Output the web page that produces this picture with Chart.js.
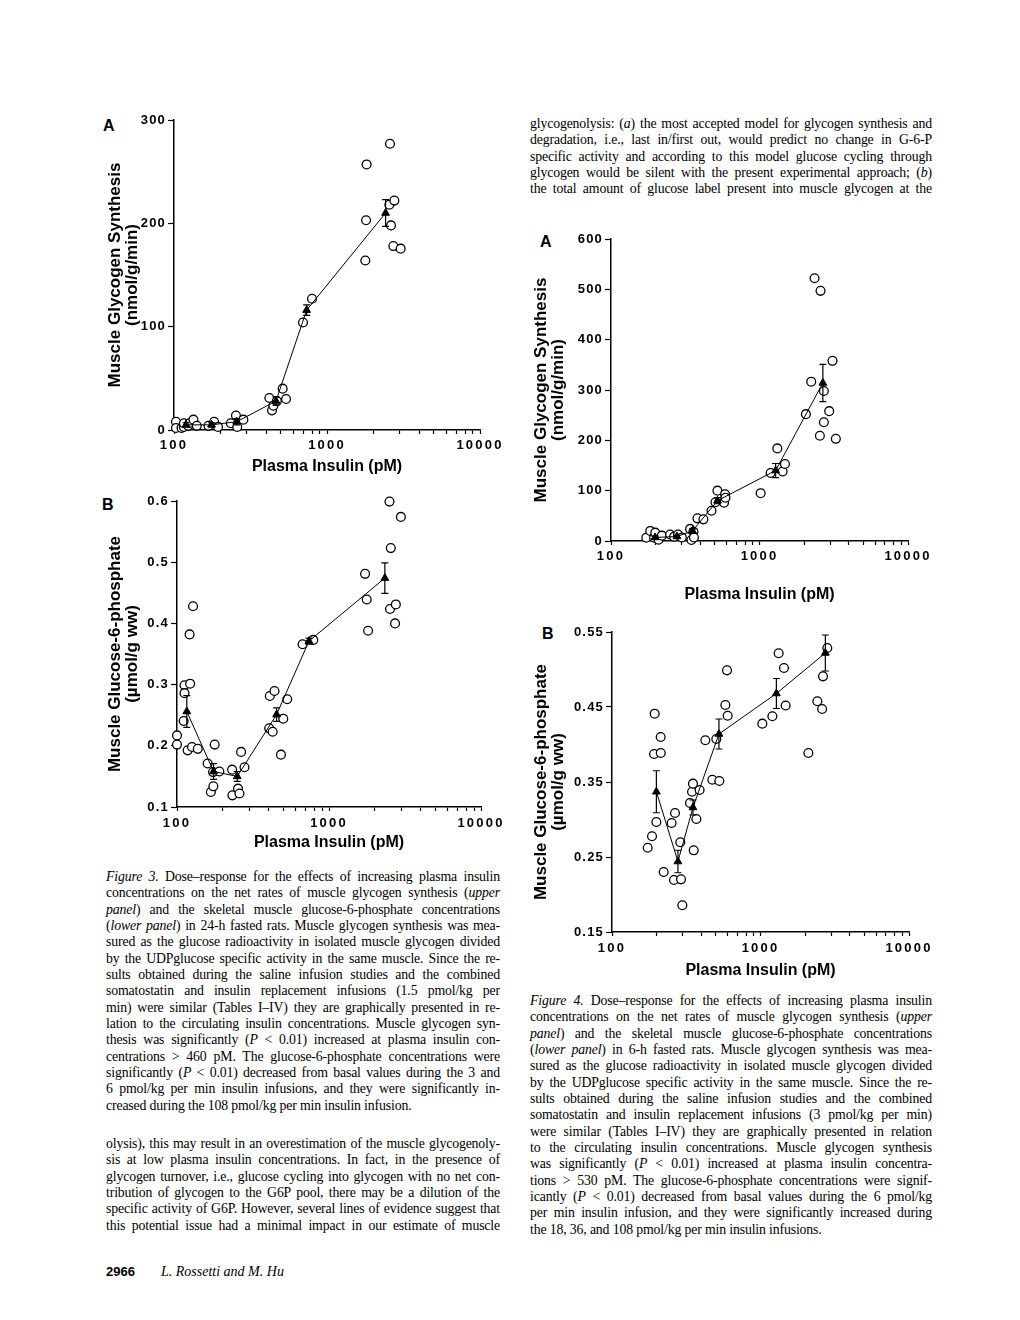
<!DOCTYPE html>
<html>
<head>
<meta charset="utf-8">
<script src="https://cdn.jsdelivr.net/npm/chart.js@4.4.1/dist/chart.umd.min.js"></script>
<style>
html,body{margin:0;padding:0;background:#fff;}
body{width:1020px;height:1320px;position:relative;overflow:hidden;color:#000;}
.blk{position:absolute;font-family:'Liberation Serif','Times New Roman',serif;font-size:13.8px;letter-spacing:-0.15px;line-height:16.35px;}
.blk div{text-align:justify;text-align-last:justify;white-space:nowrap;}
.blk div.last{text-align-last:left;}
.lab{position:absolute;font-family:'Liberation Sans',Arial,sans-serif;font-weight:bold;font-size:16px;line-height:16px;}
.foot{position:absolute;top:1264px;line-height:16px;}
canvas{position:absolute;}
</style>
</head>
<body>

<div class="blk" style="left:530px;top:116px;width:402px;">
<div>glycogenolysis: (<i>a</i>) the most accepted model for glycogen synthesis and</div>
<div>degradation, i.e., last in/first out, would predict no change in G-6-P</div>
<div>specific activity and according to this model glucose cycling through</div>
<div>glycogen would be silent with the present experimental approach; (<i>b</i>)</div>
<div>the total amount of glucose label present into muscle glycogen at the</div>
</div>

<div class="blk" style="left:106px;top:869px;width:394px;">
<div><i>Figure 3.</i> Dose–response for the effects of increasing plasma insulin</div>
<div>concentrations on the net rates of muscle glycogen synthesis (<i>upper</i></div>
<div><i>panel</i>) and the skeletal muscle glucose-6-phosphate concentrations</div>
<div>(<i>lower panel</i>) in 24-h fasted rats. Muscle glycogen synthesis was mea-</div>
<div>sured as the glucose radioactivity in isolated muscle glycogen divided</div>
<div>by the UDPglucose specific activity in the same muscle. Since the re-</div>
<div>sults obtained during the saline infusion studies and the combined</div>
<div>somatostatin and insulin replacement infusions (1.5 pmol/kg per</div>
<div>min) were similar (Tables I–IV) they are graphically presented in re-</div>
<div>lation to the circulating insulin concentrations. Muscle glycogen syn-</div>
<div>thesis was significantly (<i>P</i> &lt; 0.01) increased at plasma insulin con-</div>
<div>centrations &gt; 460 pM. The glucose-6-phosphate concentrations were</div>
<div>significantly (<i>P</i> &lt; 0.01) decreased from basal values during the 3 and</div>
<div>6 pmol/kg per min insulin infusions, and they were significantly in-</div>
<div class="last">creased during the 108 pmol/kg per min insulin infusion.</div>
</div>

<div class="blk" style="left:106px;top:1136px;width:394px;">
<div>olysis), this may result in an overestimation of the muscle glycogenoly-</div>
<div>sis at low plasma insulin concentrations. In fact, in the presence of</div>
<div>glycogen turnover, i.e., glucose cycling into glycogen with no net con-</div>
<div>tribution of glycogen to the G6P pool, there may be a dilution of the</div>
<div>specific activity of G6P. However, several lines of evidence suggest that</div>
<div>this potential issue had a minimal impact in our estimate of muscle</div>
</div>

<div class="blk" style="left:530px;top:993px;width:402px;">
<div><i>Figure 4.</i> Dose–response for the effects of increasing plasma insulin</div>
<div>concentrations on the net rates of muscle glycogen synthesis (<i>upper</i></div>
<div><i>panel</i>) and the skeletal muscle glucose-6-phosphate concentrations</div>
<div>(<i>lower panel</i>) in 6-h fasted rats. Muscle glycogen synthesis was mea-</div>
<div>sured as the glucose radioactivity in isolated muscle glycogen divided</div>
<div>by the UDPglucose specific activity in the same muscle. Since the re-</div>
<div>sults obtained during the saline infusion studies and the combined</div>
<div>somatostatin and insulin replacement infusions (3 pmol/kg per min)</div>
<div>were similar (Tables I–IV) they are graphically presented in relation</div>
<div>to the circulating insulin concentrations. Muscle glycogen synthesis</div>
<div>was significantly (<i>P</i> &lt; 0.01) increased at plasma insulin concentra-</div>
<div>tions &gt; 530 pM. The glucose-6-phosphate concentrations were signif-</div>
<div>icantly (<i>P</i> &lt; 0.01) decreased from basal values during the 6 pmol/kg</div>
<div>per min insulin infusion, and they were significantly increased during</div>
<div class="last">the 18, 36, and 108 pmol/kg per min insulin infusions.</div>
</div>

<div class="foot" style="left:106px;font-family:'Liberation Sans',Arial,sans-serif;font-weight:bold;font-size:13px;">2966</div>
<div class="foot" style="left:161px;font-family:'Liberation Serif','Times New Roman',serif;font-style:italic;font-size:14px;">L. Rossetti and M. Hu</div>

<div class="lab" style="left:103px;top:118px;">A</div>
<div class="lab" style="left:102px;top:497px;">B</div>
<div class="lab" style="left:540px;top:234px;">A</div>
<div class="lab" style="left:542px;top:626px;">B</div>

<canvas id="c3a"></canvas>
<canvas id="c3b"></canvas>
<canvas id="c4a"></canvas>
<canvas id="c4b"></canvas>

<script>
// ---------------- data ----------------
const xTickValues = [100,200,300,400,500,600,700,800,900,1000,2000,3000,4000,5000,6000,7000,8000,9000,10000];
const xTickLabels = [100,1000,10000];

// Figure 3A: muscle glycogen synthesis (nmol/g/min), 24-h fasted
const fig3aYTicks = [0,100,200,300];
const fig3aInsulin   = [103,103,112,116,116,124,126,134,141,168,183,194,235,254,259,284,420,437,446,470,513,540,697,798,1780,1800,1815,2555,2580,2620,2715,2755,3030];
const fig3aSynthesis = [8,2,2,3,6.5,4,6.5,10,4,4,8,3,6.5,14,3,10,31,19,23.5,28,40,30,104,127,164,203,257,218,277,198,178,222,175.5];
const fig3aMeanInsulin   = [120,176,257,464,736,2415];
const fig3aMeanSynthesis = [5,5,8,28,116,210];
const fig3aMeanSem       = [2,2,3,4,5,13];

// Figure 3B: muscle glucose-6-phosphate (umol/g ww), 24-h fasted
const fig3bYTicks = [0.1,0.2,0.3,0.4,0.5,0.6];
const fig3bInsulin = [100,100,110.6,112,112,117.5,121,122,125.5,127.5,137,159,167,172.7,173.5,177,190,230.5,231.5,252,257.6,264,278,404,408,426,438,483,500,531,670,788,1727,1771,1808,2500,2520,2550,2720,2752,2970];
const fig3bG6P     = [0.217,0.202,0.2405,0.299,0.286,0.1926,0.382,0.3015,0.198,0.428,0.195,0.171,0.1245,0.157,0.1338,0.202,0.158,0.161,0.119,0.130,0.122,0.190,0.165,0.2285,0.2814,0.223,0.2895,0.1855,0.2443,0.276,0.366,0.373,0.481,0.439,0.388,0.599,0.4235,0.523,0.400,0.431,0.574];
const fig3bMeanInsulin = [116,174,249,452,738,2330];
const fig3bMeanG6P     = [0.256,0.158,0.150,0.251,0.371,0.474];
const fig3bMeanSem     = [0.026,0.013,0.008,0.011,0.005,0.025];

// Figure 4A: muscle glycogen synthesis (nmol/g/min), 6-h fasted
const fig4aYTicks = [0,100,200,300,400,500,600];
const fig4aInsulin   = [172.8,183.8,195,198.6,209,220,250,266,283,300,341,348,359,362,382,419,475,505,521,577,586,590,1018,1188,1318,1431,1483,2053,2230,2348,2550,2576,2713,2713,2946,3101,3266];
const fig4aSynthesis = [6.6,20,6.6,16.6,2.6,10.6,13,8.6,13,7,24,2,18.5,7,45,43,60,77,100,76,93,86,95,135,184,138,153,252,316.5,522,209,497,298,236,258,358,203];
const fig4aMeanInsulin   = [198,278,354,521,1284,2671];
const fig4aMeanSynthesis = [7,9,20,80,140,314];
const fig4aMeanSem       = [2,2,4,6,14,37];

// Figure 4B: muscle glucose-6-phosphate (umol/g ww), 6-h fasted
const fig4bYTicks = [0.15,0.25,0.35,0.45,0.55];
const fig4bInsulin = [173.9,186,192,193.8,198.9,212.7,213,222.8,252,261.5,265.7,288.4,291.5,297.6,335,346,351,355,370,389,425,474,504,528,580,595,601,1029,1202,1325,1439,1477,2100,2414,2600,2636,2818];
const fig4bG6P     = [0.2624,0.2776,0.3873,0.4411,0.2967,0.41,0.3887,0.23,0.2953,0.2193,0.3087,0.2696,0.2202,0.1856,0.322,0.337,0.3478,0.2589,0.3007,0.3393,0.4056,0.353,0.4073,0.3513,0.4527,0.4989,0.4384,0.4278,0.4376,0.5216,0.502,0.452,0.3887,0.4576,0.4473,0.4909,0.5287];
const fig4bMeanInsulin = [199,278,351,525,1279,2733];
const fig4bMeanG6P     = [0.337,0.244,0.316,0.414,0.468,0.522];
const fig4bMeanSem     = [0.028,0.015,0.010,0.020,0.020,0.024];

// ---------------- drawing ----------------
const SANS = "'Liberation Sans', Arial, Helvetica, sans-serif";

const errorBars = {
  id: 'errorBars',
  afterDatasetsDraw(chart, args, opts) {
    const ctx = chart.ctx, x = chart.scales.x, y = chart.scales.y;
    ctx.save();
    ctx.strokeStyle = '#000';
    ctx.lineWidth = 1.2;
    for (let i = 0; i < opts.xs.length; i++) {
      const px = x.getPixelForValue(opts.xs[i]);
      const top = y.getPixelForValue(opts.ys[i] + opts.sem[i]);
      const bot = y.getPixelForValue(opts.ys[i] - opts.sem[i]);
      ctx.beginPath();
      ctx.moveTo(px, top); ctx.lineTo(px, bot);
      ctx.moveTo(px - 3.5, top); ctx.lineTo(px + 3.5, top);
      ctx.moveTo(px - 3.5, bot); ctx.lineTo(px + 3.5, bot);
      ctx.stroke();
    }
    ctx.restore();
  }
};

function spaceLabels(chart, map) {
  Object.keys(map).forEach(k => {
    const s = chart.scales[k];
    const orig = s.drawLabels;
    s.drawLabels = function (area) {
      const c = this.ctx;
      const prev = c.letterSpacing;
      c.letterSpacing = map[k];
      orig.call(this, area);
      c.letterSpacing = prev || '0px';
    };
  });
  chart.draw();
}

function makeChart(id, geo, d) {
  const CL = geo.yTitleX - 14, CT = geo.plot.t - 20, CR = geo.plot.r + 32, CB = geo.xTitleY + 14;
  const YW = geo.plot.l - CL, XH = CB - geo.plot.b;
  const cv = document.getElementById(id);
  cv.width = CR - CL; cv.height = CB - CT;
  cv.style.left = CL + 'px'; cv.style.top = CT + 'px';
  cv.style.width = (CR - CL) + 'px'; cv.style.height = (CB - CT) + 'px';
  const points = d.x.map((v, i) => ({x: v, y: d.y[i]}));
  const means = d.mx.map((v, i) => ({x: v, y: d.my[i]}));
  const yMin = d.yTicks[0], yMax = d.yTicks[d.yTicks.length - 1];
  const chart = new Chart(cv, {
    type: 'scatter',
    data: {
      datasets: [
        {label: 'mean ± SE', data: means, showLine: true, borderColor: '#000', borderWidth: 1,
         pointStyle: 'triangle', pointRadius: 4.5, pointBackgroundColor: '#000', pointBorderColor: '#000',
         pointBorderWidth: 1, order: 0, clip: false},
        {label: 'individual rats', data: points, showLine: false, pointStyle: 'circle', pointRadius: 4.4,
         pointBorderWidth: 1.3, pointBorderColor: '#000', pointBackgroundColor: '#fff', order: 1, clip: false}
      ]
    },
    options: {
      responsive: false,
      animation: false,
      layout: {padding: {left: 0, top: 20, right: 32, bottom: 0}},
      plugins: {
        legend: {display: false},
        tooltip: {enabled: false},
        errorBars: {xs: d.mx, ys: d.my, sem: d.sem}
      },
      scales: {
        x: {
          type: 'logarithmic', min: 100, max: 10000,
          afterBuildTicks: s => { s.ticks = xTickValues.map(v => ({value: v})); },
          afterFit: s => { s.height = XH; },
          ticks: {autoSkip: false, maxRotation: 0, minRotation: 0, padding: geo.xPad, color: '#000',
                  font: {family: SANS, size: 13, weight: 'bold'},
                  callback: v => xTickLabels.includes(v) ? String(v) : ''},
          grid: {drawOnChartArea: false, drawTicks: true, tickLength: 4, tickColor: '#000', tickWidth: 1.2},
          border: {display: true, color: '#000', width: 1.5},
          title: {display: true, text: 'Plasma Insulin (pM)', color: '#000',
                  font: {family: SANS, size: 16, weight: 'bold', lineHeight: 1}, padding: {top: 0, bottom: 6}}
        },
        y: {
          type: 'linear', min: yMin, max: yMax,
          afterBuildTicks: s => { s.ticks = d.yTicks.map(v => ({value: v})); },
          afterFit: s => { s.width = YW; },
          ticks: {padding: 2, color: '#000', font: {family: SANS, size: 13, weight: 'bold'},
                  callback: v => d.fmt(v)},
          grid: {drawOnChartArea: false, drawTicks: true, tickLength: 6, tickColor: '#000', tickWidth: 1.2},
          border: {display: true, color: '#000', width: 1.5},
          title: {display: true, text: d.yTitle, color: '#000',
                  font: {family: SANS, size: 17, weight: 'bold', lineHeight: 1}, padding: {top: 5.5, bottom: 0}}
        }
      }
    },
    plugins: [errorBars]
  });
  spaceLabels(chart, {x: '2.2px', y: '1.2px'});
  return chart;
}

const fmt0 = v => String(Math.round(v));
const fmt1 = v => v.toFixed(1);
const fmt2 = v => v.toFixed(2);

makeChart('c3a', {plot: {l: 174, t: 120, r: 480, b: 430}, yTitleX: 115, xTitleY: 467, xPad: 4},
  {x: fig3aInsulin, y: fig3aSynthesis, mx: fig3aMeanInsulin, my: fig3aMeanSynthesis, sem: fig3aMeanSem,
   yTicks: fig3aYTicks, fmt: fmt0, yTitle: ['Muscle Glycogen Synthesis', '(nmol/g/min)']});

makeChart('c3b', {plot: {l: 177, t: 501, r: 481, b: 807}, yTitleX: 115, xTitleY: 843, xPad: 5},
  {x: fig3bInsulin, y: fig3bG6P, mx: fig3bMeanInsulin, my: fig3bMeanG6P, sem: fig3bMeanSem,
   yTicks: fig3bYTicks, fmt: fmt1, yTitle: ['Muscle Glucose-6-phosphate', '(µmol/g ww)']});

makeChart('c4a', {plot: {l: 611, t: 239, r: 908, b: 541}, yTitleX: 541, xTitleY: 595, xPad: 4},
  {x: fig4aInsulin, y: fig4aSynthesis, mx: fig4aMeanInsulin, my: fig4aMeanSynthesis, sem: fig4aMeanSem,
   yTicks: fig4aYTicks, fmt: fmt0, yTitle: ['Muscle Glycogen Synthesis', '(nmol/g/min)']});

makeChart('c4b', {plot: {l: 612, t: 632, r: 909, b: 932}, yTitleX: 541, xTitleY: 971, xPad: 5},
  {x: fig4bInsulin, y: fig4bG6P, mx: fig4bMeanInsulin, my: fig4bMeanG6P, sem: fig4bMeanSem,
   yTicks: fig4bYTicks, fmt: fmt2, yTitle: ['Muscle Glucose-6-phosphate', '(µmol/g ww)']});
</script>
</body>
</html>
